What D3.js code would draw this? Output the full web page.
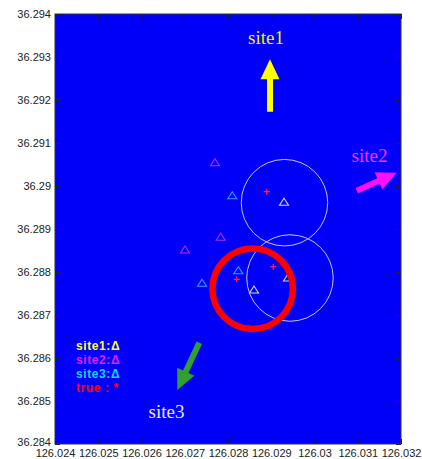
<!DOCTYPE html>
<html>
<head>
<meta charset="utf-8">
<script src="https://cdn.jsdelivr.net/npm/d3@7"></script>
<style>
  body { margin: 0; background: #fff; }
  text { font-family: "Liberation Sans", Arial, sans-serif; }
</style>
</head>
<body>
<div id="chart"></div>
<script>
// axis ticks
var xTicks = [126.024, 126.025, 126.026, 126.027, 126.028, 126.029, 126.03, 126.031, 126.032]
var xTickLabels = ["126.024", "126.025", "126.026", "126.027", "126.028", "126.029", "126.03", "126.031", "126.032"]
var yTicks = [36.284, 36.285, 36.286, 36.287, 36.288, 36.289, 36.29, 36.291, 36.292, 36.293, 36.294]
var yTickLabels = ["36.284", "36.285", "36.286", "36.287", "36.288", "36.289", "36.29", "36.291", "36.292", "36.293", "36.294"]

// estimates per site [lon, lat]
var site1Pts = [[126.029295, 36.289621], [126.029387, 36.287860], [126.028601, 36.287581]]
var site2Pts = [[126.027699, 36.290542], [126.027831, 36.288807], [126.027006, 36.288512]]
var site3Pts = [[126.028099, 36.289774], [126.028238, 36.288030], [126.027399, 36.287737]]
var truePts = [[126.028895, 36.289867], [126.029047, 36.288123], [126.028201, 36.287830]]

// error circles [lon, lat, radius]
var rangeCircles = [[126.029306, 36.289612, 0.001], [126.029433, 36.287860, 0.001]]
var resultCircle = [126.028571, 36.287609, 0.00093]

// direction arrows [tailLon, tailLat, tipLon, tipLat]
var arrowNames = ["site1", "site2", "site3"]
var arrowCoords = [
  [126.028971, 36.291728, 126.028971, 36.292947],
  [126.030976, 36.289891, 126.031901, 36.290309],
  [126.027336, 36.286356, 126.026828, 36.285256]
]
var arrowLabelPos = [[126.028879, 36.293302], [126.031272, 36.290565], [126.026578, 36.284605]]

var legendLabels = ["site1:\u0394", "site2:\u0394", "site3:\u0394", "true : *"]

var W = 422, H = 459
var margin = {left: 55, top: 14, right: 21, bottom: 15}

var svg = d3.select("#chart").append("svg")
  .attr("width", W)
  .attr("height", H)

var x = d3.scaleLinear().domain([126.024, 126.032]).range([margin.left, W - margin.right])
var y = d3.scaleLinear().domain([36.284, 36.294]).range([H - margin.bottom, margin.top])

// plot background
svg.append("rect")
  .attr("x", x(126.024)).attr("y", y(36.294))
  .attr("width", x(126.032) - x(126.024))
  .attr("height", y(36.284) - y(36.294))
  .attr("fill", "#0000f8")
  .attr("stroke", "#333")
  .attr("stroke-width", 1)

// axes with inward ticks
var axB = svg.append("g").attr("transform", `translate(0,${y(36.284)})`)
  .call(d3.axisBottom(x).tickValues(xTicks).tickFormat((d, i) => xTickLabels[i]).tickSizeInner(-5).tickSizeOuter(0).tickPadding(5))
var axL = svg.append("g").attr("transform", `translate(${x(126.024)},0)`)
  .call(d3.axisLeft(y).tickValues(yTicks).tickFormat((d, i) => yTickLabels[i]).tickSizeInner(-5).tickSizeOuter(0).tickPadding(4))
var axT = svg.append("g").attr("transform", `translate(0,${y(36.294)})`)
  .call(d3.axisTop(x).tickValues(xTicks).tickFormat("").tickSizeInner(-5).tickSizeOuter(0))
var axR = svg.append("g").attr("transform", `translate(${x(126.032)},0)`)
  .call(d3.axisRight(y).tickValues(yTicks).tickFormat("").tickSizeInner(-5).tickSizeOuter(0))

svg.selectAll(".domain").remove()
svg.selectAll(".tick line").attr("stroke", "#222")
svg.selectAll(".tick text")
  .attr("fill", "#222")
  .style("font-size", "11px")
  .style("font-family", "'Liberation Sans', Arial, sans-serif")

// bottom-left y label sits a bit higher so it clears the first x label
axL.selectAll(".tick text").filter(d => d === 36.284).attr("dy", "0.1em")

// range circles
var kx = x(126.025) - x(126.024)
svg.append("g").selectAll("circle")
  .data(rangeCircles)
  .join("circle")
  .attr("cx", d => x(d[0]))
  .attr("cy", d => y(d[1]))
  .attr("r", d => d[2] * 1000 * kx)
  .attr("fill", "none")
  .attr("stroke", "#c8c8d0")
  .attr("stroke-width", 1)

// triangles
var triangle = function (g, pts, color) {
  g.selectAll("path.t")
    .data(pts)
    .join("path")
    .attr("class", "t")
    .attr("d", d => {
      var cx = x(d[0]), cy = y(d[1])
      return `M${cx},${cy - 4}L${cx + 4.5},${cy + 3}L${cx - 4.5},${cy + 3}Z`
    })
    .attr("fill", "none")
    .attr("stroke", color)
    .attr("stroke-width", 1.1)
}
triangle(svg.append("g"), site2Pts, "#b030e8")
triangle(svg.append("g"), site3Pts, "#30a0ff")
triangle(svg.append("g"), site1Pts, "#d8d8c8")

// true positions
svg.append("g").selectAll("path")
  .data(truePts)
  .join("path")
  .attr("d", d => {
    var cx = x(d[0]), cy = y(d[1])
    return `M${cx - 3},${cy}H${cx + 3}M${cx},${cy - 3}V${cy + 3}`
  })
  .attr("stroke", "#ff2050")
  .attr("stroke-width", 1.3)

// result circle
svg.append("circle")
  .attr("cx", x(resultCircle[0]))
  .attr("cy", y(resultCircle[1]))
  .attr("r", resultCircle[2] * 1000 * kx)
  .attr("fill", "none")
  .attr("stroke", "#ff0000")
  .attr("stroke-width", 6.5)

// arrows
var arrowColors = ["#ffff00", "#ff10ff", "#30a030"]
var labelColors = ["#f0f000", "#ff30ff", "#e8e8ff"]
var arrowPath = function (d) {
  var x0 = x(d[0]), y0 = y(d[1]), x1 = x(d[2]), y1 = y(d[3])
  var dx = x1 - x0, dy = y1 - y0, len = Math.sqrt(dx * dx + dy * dy)
  var ux = dx / len, uy = dy / len, nx = -uy, ny = ux
  var hl = 20, hw = 9.5, sw = 3
  var bx = x1 - ux * hl, by = y1 - uy * hl
  var p = [
    [x0 + nx * sw, y0 + ny * sw],
    [bx + nx * sw, by + ny * sw],
    [bx + nx * hw, by + ny * hw],
    [x1, y1],
    [bx - nx * hw, by - ny * hw],
    [bx - nx * sw, by - ny * sw],
    [x0 - nx * sw, y0 - ny * sw]
  ]
  return "M" + p.map(q => q.join(",")).join("L") + "Z"
}
svg.append("g").selectAll("path")
  .data(arrowCoords)
  .join("path")
  .attr("d", arrowPath)
  .attr("fill", (d, i) => arrowColors[i])

svg.append("g").selectAll("text")
  .data(arrowLabelPos)
  .join("text")
  .attr("x", d => x(d[0]))
  .attr("y", d => y(d[1]))
  .attr("text-anchor", "middle")
  .attr("fill", (d, i) => labelColors[i])
  .style("font-family", "'Liberation Serif', 'Times New Roman', serif")
  .style("font-size", "19px")
  .text((d, i) => arrowNames[i])

// legend
var legendColors = ["#ffff40", "#e020f0", "#20d0ff", "#ff0000"]
svg.append("g").selectAll("text")
  .data(legendLabels)
  .join("text")
  .attr("x", 76)
  .attr("y", (d, i) => 350 + i * 14)
  .attr("fill", (d, i) => legendColors[i])
  .style("font-size", "12px")
  .style("font-weight", "bold")
  .style("letter-spacing", "0.6px")
  .text(d => d)
</script>
</body>
</html>
